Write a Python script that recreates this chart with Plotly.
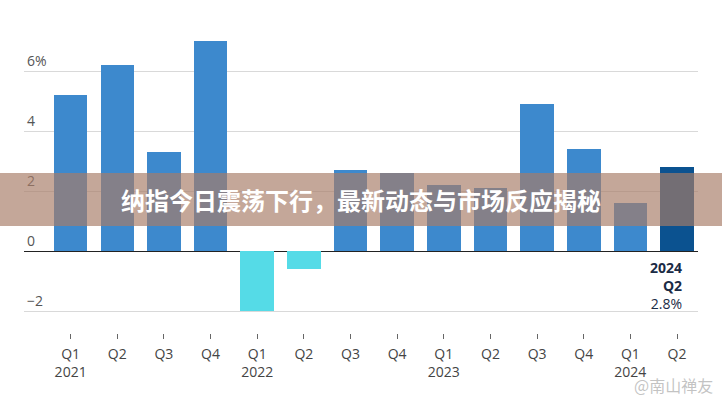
import plotly.graph_objects as go

quarters = ["Q1", "Q2", "Q3", "Q4", "Q1", "Q2", "Q3", "Q4", "Q1", "Q2", "Q3", "Q4", "Q1", "Q2"]
years = ["2021", "", "", "", "2022", "", "", "", "2023", "", "", "", "2024", ""]
values = [5.2, 6.2, 3.3, 7.0, -2.0, -0.6, 2.7, 2.6, 2.2, 2.1, 4.9, 3.4, 1.6, 2.8]
ytick_vals = [-2, 0, 2, 4, 6]
ytick_text = ["\u22122", "0", "2", "4", "6%"]
title_text = "纳指今日震荡下行，最新动态与市场反应揭秘"
watermark = "@南山禅友"

xs = list(range(len(values)))
tick_labels = [q + ("<br>" + y if y else "") for q, y in zip(quarters, years)]

colors = []
for i, v in enumerate(values):
    if i == len(values) - 1:
        colors.append("#0b5290")
    elif v < 0:
        colors.append("#55dbe7")
    else:
        colors.append("#3d89cd")

fig = go.Figure()
fig.add_trace(go.Bar(x=xs, y=values, marker=dict(color=colors, line=dict(width=0)),
                     width=0.72, hoverinfo="skip"))

fig.update_layout(
    width=722, height=400,
    margin=dict(l=24, r=24, t=29, b=67, autoexpand=False),
    paper_bgcolor="white", plot_bgcolor="white",
    showlegend=False,
    font=dict(family="Open Sans", color="#444"),
    bargap=0,
)
fig.update_xaxes(
    range=[-1, 13.45], automargin=False,
    tickmode="array", tickvals=xs, ticktext=tick_labels,
    ticks="outside", ticklen=5, tickcolor="#666", tickwidth=1,
    ticklabelstandoff=3,
    showgrid=False, zeroline=False, showline=False,
    tickfont=dict(size=14, color="#444"),
)
fig.update_yaxes(
    range=[-2.73, 7.4], automargin=False,
    tickmode="array", tickvals=ytick_vals, ticktext=ytick_text,
    ticklabelposition="inside top",
    tickfont=dict(size=14, color="#555"),
    showgrid=True, gridcolor="#d9d9d9", gridwidth=1,
    zeroline=True, zerolinecolor="#222", zerolinewidth=1.3,
    showline=False,
)

# 2024 Q2 label
fig.add_annotation(x=xs[-1], y=0, xref="x", yref="y", xanchor="right", yanchor="top",
                   xshift=7, yshift=-5, showarrow=False, align="right",
                   text="<b>" + years[-2] + "<br>" + quarters[-1] + "</b><br>" + f"{values[-1]:.1f}%",
                   font=dict(size=14, color="#1b2b45", family="Open Sans"))

# banner overlay
fig.add_shape(type="rect", xref="paper", yref="paper",
              x0=-0.04, x1=1.04, y0=(333 - 226) / 304, y1=(333 - 173) / 304,
              fillcolor="rgba(167,124,103,0.67)", line=dict(width=0), layer="above")
fig.add_annotation(x=0.5, y=(333 - 199) / 304, xref="paper", yref="paper", showarrow=False,
                   text="<b>" + title_text + "</b>",
                   font=dict(size=24, color="white", family="Noto Sans CJK SC"))

# watermark
fig.add_annotation(x=1.025, y=(333 - 385) / 304, xref="paper", yref="paper", xanchor="right", yanchor="middle",
                   showarrow=False, text=watermark,
                   font=dict(size=16, color="rgba(185,185,185,0.85)", family="Noto Sans CJK SC"))

fig.write_html("out.html", config={"displayModeBar": False},
               post_script="document.body.style.margin='0';document.body.style.overflow='hidden';")
